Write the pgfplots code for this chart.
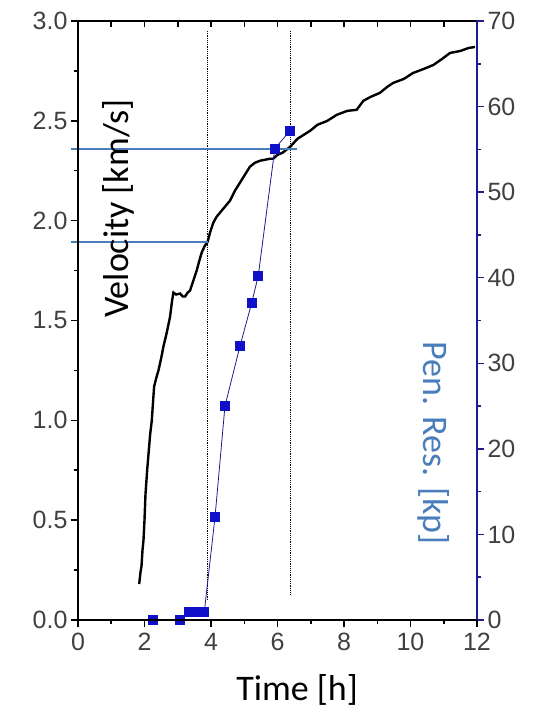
\documentclass[border=0pt]{standalone}
\usepackage{fontspec}
\setmainfont{Liberation Sans}
\newfontfamily\calibri{Carlito}
\usepackage{pgfplots}
\pgfplotsset{compat=1.18}
\definecolor{navy}{HTML}{1C1C8C}
\definecolor{sqblue}{HTML}{1010C8}
\definecolor{steel}{HTML}{4A7EBB}
\definecolor{ticklab}{HTML}{404040}
\begin{document}
\begin{tikzpicture}
\useasboundingbox (-78pt,-89pt) rectangle (455pt,620pt);
\pgfplotsset{
  every axis/.append style={scale only axis, width=399pt, height=599pt,
    xmin=0, xmax=12,
    /pgf/number format/assume math mode=true,
    tick label style={font=\fontsize{25}{25}\selectfont, text=ticklab},
    major tick length=7pt, minor tick length=4pt}
}
\begin{axis}[axis x line*=bottom, axis y line*=left,
  ymin=0, ymax=3,
  xtick={0,2,...,12}, minor x tick num=1,
  ytick={0,0.5,...,3}, minor y tick num=1,
  tick align=outside,
  yticklabel style={/pgf/number format/.cd, fixed, fixed zerofill, precision=1},
  xticklabel style={yshift=-3pt},
  every outer x axis line/.append style={-, line width=2.5pt, black},
  every outer y axis line/.append style={-, line width=2.5pt, black},
  every tick/.style={black, line width=1.5pt},
  clip=false]
\addplot[black, line width=2.4pt] coordinates {
(1.84,0.18) (1.88,0.24) (1.91,0.27) (1.94,0.35) (1.97,0.40) (2.00,0.50) (2.03,0.63)
(2.08,0.75) (2.12,0.83) (2.17,0.93) (2.22,1.00) (2.26,1.10) (2.29,1.17) (2.35,1.21)
(2.42,1.25) (2.50,1.31) (2.57,1.37) (2.67,1.44) (2.77,1.52) (2.83,1.60) (2.87,1.64)
(2.95,1.63) (3.07,1.635) (3.15,1.62) (3.22,1.62) (3.30,1.64) (3.37,1.65) (3.47,1.70)
(3.57,1.75) (3.65,1.80) (3.72,1.84) (3.80,1.87) (3.90,1.895) (3.97,1.94) (4.07,1.99)
(4.17,2.02) (4.27,2.04) (4.42,2.07) (4.57,2.10) (4.72,2.15) (4.87,2.19) (5.02,2.23)
(5.17,2.27) (5.32,2.29) (5.47,2.30) (5.62,2.305) (5.77,2.31) (5.87,2.31) (6.00,2.33)
(6.15,2.34) (6.38,2.37) (6.60,2.41) (6.98,2.45) (7.20,2.48) (7.50,2.50) (7.78,2.53)
(8.10,2.55) (8.38,2.555) (8.58,2.60) (8.80,2.62) (9.08,2.64) (9.30,2.67) (9.48,2.69)
(9.80,2.71) (10.08,2.74) (10.40,2.76) (10.69,2.78) (10.95,2.81) (11.19,2.84) (11.50,2.85)
(11.75,2.865) (11.94,2.87)};
\addplot[black, densely dotted, line width=1.2pt] coordinates {(3.90,2.95) (3.90,0.10)};
\addplot[black, densely dotted, line width=1.2pt] coordinates {(6.40,2.95) (6.40,0.12)};
\addplot[steel, line width=1.8pt] coordinates {(-0.2,2.36) (6.58,2.36)};
\addplot[steel, line width=1.8pt] coordinates {(-0.2,1.895) (3.90,1.895)};
\node[rotate=90, font=\calibri\fontsize{36}{36}\selectfont, black] at (axis cs:1.2,2.06) {Velocity [km/s]};
\node[rotate=-90, font=\calibri\fontsize{36}{36}\selectfont, text=steel] at (axis cs:10.68,0.886) {Pen. Res. [kp]};
\node[font=\calibri\fontsize{36}{36}\selectfont, black] at (axis cs:6.59,-0.35) {Time [h]};
\end{axis}
\begin{axis}[axis y line*=right, axis x line=none,
  ymin=0, ymax=70,
  ytick={0,10,...,70}, minor y tick num=1,
  tick align=outside,
  every outer y axis line/.append style={-, line width=2.5pt, navy},
  every tick/.style={navy, line width=1.5pt}]
\addplot[navy, line width=0.8pt, mark=square*, mark size=4.5pt,
  mark options={sqblue, draw=sqblue, solid}] coordinates {
(2.25,0) (3.07,0) (3.35,1) (3.5,1) (3.65,1) (3.8,1) (4.12,12) (4.42,25)
(4.87,32) (5.22,37) (5.42,40.2) (5.92,55.1) (6.36,57.1)};
\end{axis}
\begin{axis}[axis x line*=top, axis y line=none,
  ymin=0, ymax=1,
  xtick={0,2,...,12}, minor x tick num=1, xticklabels={},
  tick align=inside,
  every tick/.style={black, line width=1.5pt},
  major tick length=6pt, minor tick length=6pt]
\end{axis}
\draw[black, line width=1.8pt] (0pt,599pt) -- (399pt,599pt);
\draw[black, line width=2.6pt, line cap=rect] (0pt,599pt) -- (0pt,0pt) -- (399pt,0pt);
\draw[navy, line width=2.6pt] (399pt,0pt) -- (399pt,599pt);
\end{tikzpicture}
\end{document}
